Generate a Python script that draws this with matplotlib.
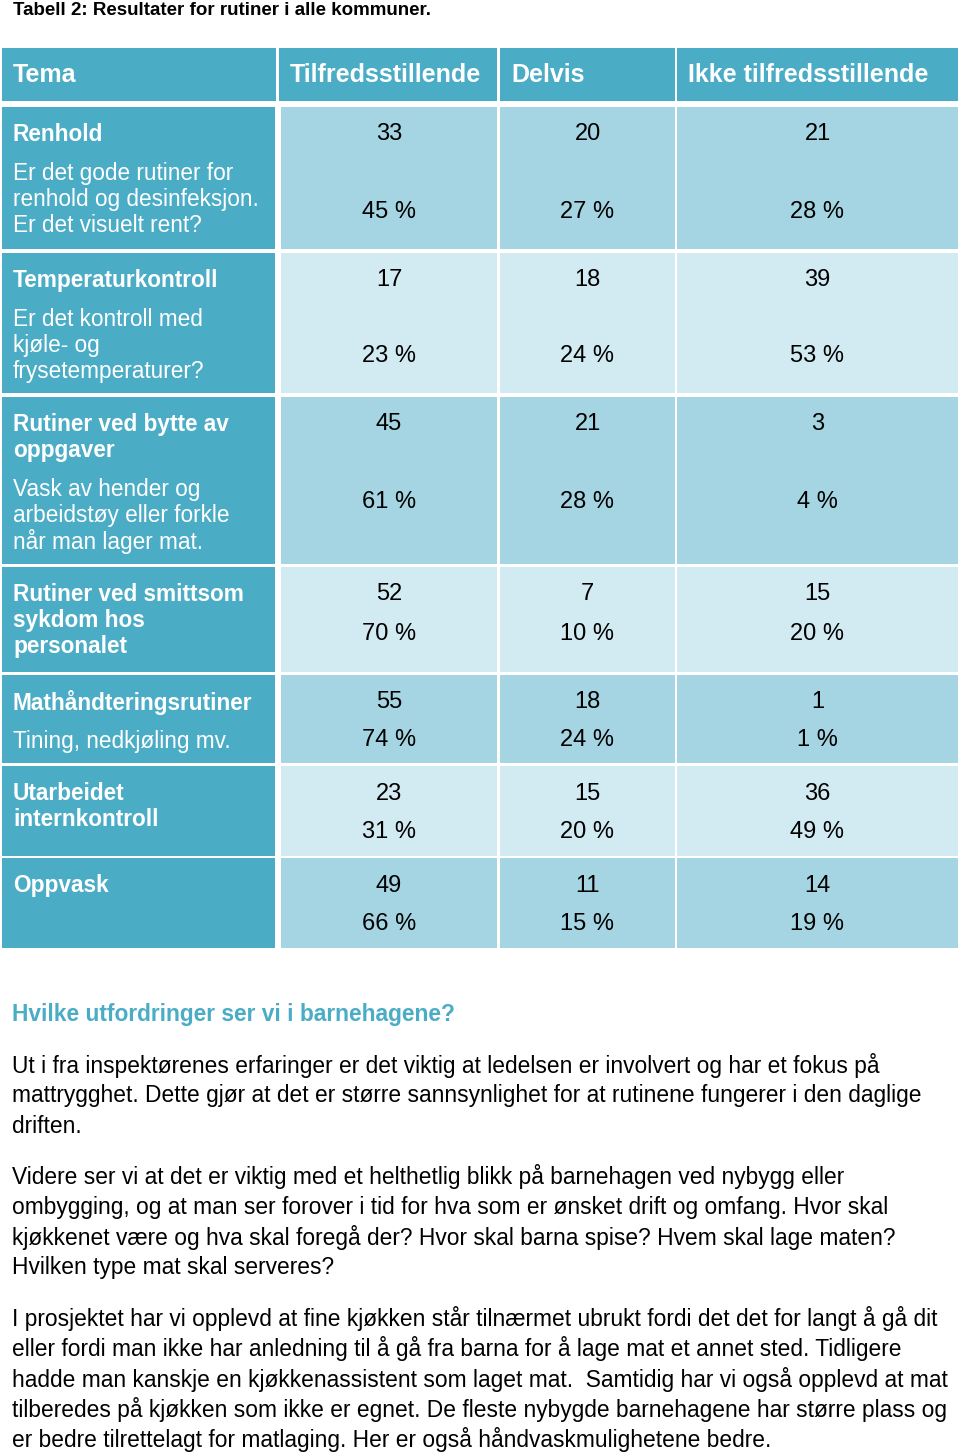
import matplotlib.pyplot as plt
from matplotlib.patches import Rectangle

plt.rcParams['font.family'] = ['Liberation Sans', 'DejaVu Sans']

# data
title = "Tabell 2: Resultater for rutiner i alle kommuner."
headers = ["Tema", "Tilfredsstillende", "Delvis", "Ikke tilfredsstillende"]
tema = [
    ["Renhold"],
    ["Temperaturkontroll"],
    ["Rutiner ved bytte av", "oppgaver"],
    ["Rutiner ved smittsom", "sykdom hos", "personalet"],
    ["Mathåndteringsrutiner"],
    ["Utarbeidet", "internkontroll"],
    ["Oppvask"],
]
beskrivelse = [
    ["Er det gode rutiner for", "renhold og desinfeksjon.", "Er det visuelt rent?"],
    ["Er det kontroll med", "kjøle- og", "frysetemperaturer?"],
    ["Vask av hender og", "arbeidstøy eller forkle", "når man lager mat."],
    [],
    ["Tining, nedkjøling mv."],
    [],
    [],
]
tilfreds = [33, 17, 45, 52, 55, 23, 49]
delvis = [20, 18, 21, 7, 18, 15, 11]
ikke = [21, 39, 3, 15, 1, 36, 14]
tilfreds_pct = [45, 23, 61, 70, 74, 31, 66]
delvis_pct = [27, 24, 28, 10, 24, 20, 15]
ikke_pct = [28, 53, 4, 20, 1, 49, 19]

overskrift = "Hvilke utfordringer ser vi i barnehagene?"
avsnitt = [
    ["Ut i fra inspektørenes erfaringer er det viktig at ledelsen er involvert og har et fokus på",
     "mattrygghet. Dette gjør at det er større sannsynlighet for at rutinene fungerer i den daglige",
     "driften."],
    ["Videre ser vi at det er viktig med et helthetlig blikk på barnehagen ved nybygg eller",
     "ombygging, og at man ser forover i tid for hva som er ønsket drift og omfang. Hvor skal",
     "kjøkkenet være og hva skal foregå der? Hvor skal barna spise? Hvem skal lage maten?",
     "Hvilken type mat skal serveres?"],
    ["I prosjektet har vi opplevd at fine kjøkken står tilnærmet ubrukt fordi det det for langt å gå dit",
     "eller fordi man ikke har anledning til å gå fra barna for å lage mat et annet sted. Tidligere",
     "hadde man kanskje en kjøkkenassistent som laget mat.  Samtidig har vi også opplevd at mat",
     "tilberedes på kjøkken som ikke er egnet. De fleste nybygde barnehagene har større plass og",
     "er bedre tilrettelagt for matlaging. Her er også håndvaskmulighetene bedre."],
]

# layout (pixels)
teal = '#4BACC6'
dark = '#A5D5E2'
light = '#D2EAF1'
col_left = [2, 281, 500, 677]
col_right = [275, 497, 675, 958]
head_left = [2, 279, 500, 677]
head_right = [276, 497, 675, 958]
row_top = [107, 253, 397, 567, 675, 766, 858]
row_bot = [249, 393, 564, 672, 763, 856, 948]
pct_off = [105, 103, 104, 66, 65, 66, 65]
dy = 0.5  # small nudge so va='center' lands on the visual middle

fig = plt.figure(figsize=(9.6, 14.54), dpi=100)
ax = fig.add_axes([0, 0, 1, 1])
ax.set_xlim(0, 960)
ax.set_ylim(1454, 0)
ax.axis('off')

ax.text(13, 10 + dy, title, fontsize=13.5, fontweight='bold', va='center', ha='left')

# header
for i, h in enumerate(headers):
    ax.add_patch(Rectangle((head_left[i], 48), head_right[i] - head_left[i], 53, color=teal, lw=0))
    ax.text(head_left[i] + 11, 74 + dy, h, fontsize=18, fontweight='bold', color='white', va='center', ha='left')

# rows
for r in range(len(tema)):
    top, bot = row_top[r], row_bot[r]
    shade = dark if r % 2 == 0 else light
    ax.add_patch(Rectangle((col_left[0], top), col_right[0] - col_left[0], bot - top, color=teal, lw=0))
    for c in range(1, 4):
        ax.add_patch(Rectangle((col_left[c], top), col_right[c] - col_left[c], bot - top, color=shade, lw=0))
    y = top + 27 + dy
    for line in tema[r]:
        ax.text(13, y, line, fontsize=16.3, fontweight='bold', color='white', va='center', ha='left')
        y += 26
    y += 13
    for line in beskrivelse[r]:
        ax.text(13, y, line, fontsize=16.3, color='white', va='center', ha='left')
        y += 26
    counts = [tilfreds[r], delvis[r], ikke[r]]
    pcts = [tilfreds_pct[r], delvis_pct[r], ikke_pct[r]]
    for c in range(3):
        cx = (col_left[c + 1] + col_right[c + 1]) / 2
        ax.text(cx, top + 27 + dy, str(counts[c]), fontsize=17, color='black', va='center', ha='center')
        ax.text(cx, top + pct_off[r] + dy, f"{pcts[c]} %", fontsize=17, color='black', va='center', ha='center')

# text below table
ax.text(12, 1014.5, overskrift, fontsize=16.4, fontweight='bold', color=teal, va='center', ha='left')
y = 1065.5
for para in avsnitt:
    for line in para:
        ax.text(12, y, line, fontsize=16.4, color='black', va='center', ha='left')
        y += 30.4
    y += 20

fig.savefig('out.png', dpi=100)
